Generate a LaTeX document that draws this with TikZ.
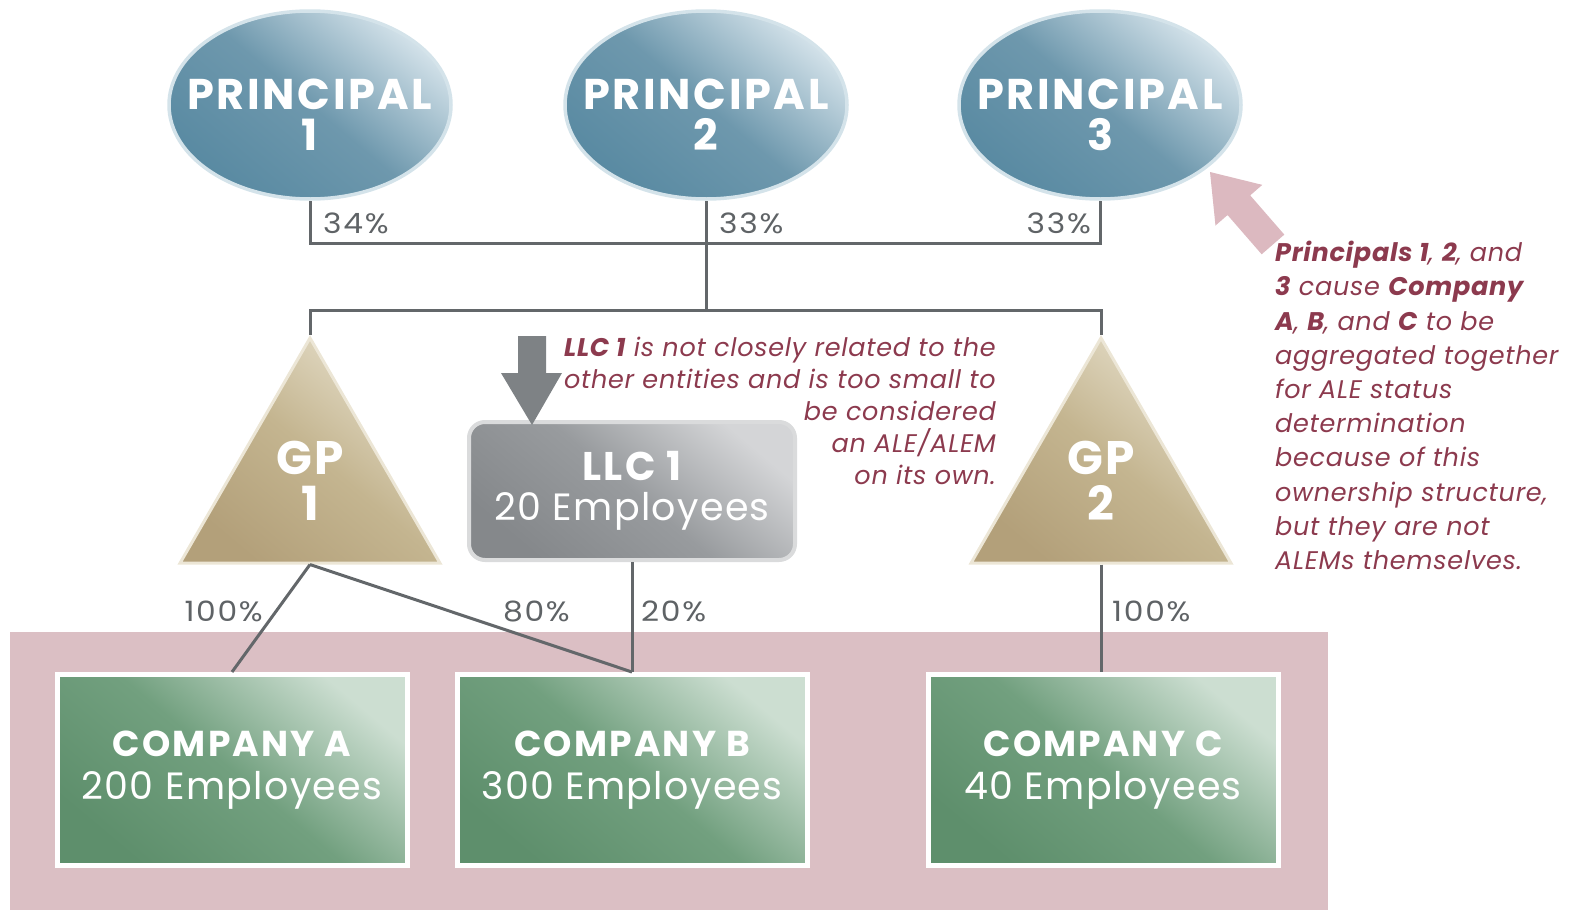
\documentclass[tikz,border=0pt]{standalone}
\usepackage{fontspec}
\setmainfont{Poppins}
\newfontfamily\capsfont{Poppins}[LetterSpace=6]
\newfontfamily\countfont{Poppins}[LetterSpace=3.5]
\newfontfamily\pctfont{Poppins}[FakeStretch=1.12,LetterSpace=6]
\newfontfamily\notefont{Poppins}[LetterSpace=2.8]
\usetikzlibrary{shapes.geometric}

\definecolor{wire}{HTML}{63676A}
\definecolor{pctgray}{HTML}{5F6366}
\definecolor{notered}{HTML}{8C3A4E}
\definecolor{blueDark}{HTML}{598AA2}
\definecolor{blueMid}{HTML}{6E98AD}
\definecolor{blueLight}{HTML}{D2E1E9}
\definecolor{blueRim}{HTML}{D4E3EA}
\definecolor{tanDark}{HTML}{B3A07A}
\definecolor{tanMid}{HTML}{C4B590}
\definecolor{tanLight}{HTML}{E6DFCB}
\definecolor{tanRim}{HTML}{ECE6D6}
\definecolor{greyDark}{HTML}{85888B}
\definecolor{greyMid}{HTML}{989B9E}
\definecolor{greyLight}{HTML}{D4D5D7}
\definecolor{greyRim}{HTML}{DADBDC}
\definecolor{greenDark}{HTML}{5E8F6C}
\definecolor{greenMid}{HTML}{72A07F}
\definecolor{greenLight}{HTML}{CCDED1}
\definecolor{pinkBand}{HTML}{DBBFC4}
\definecolor{pinkArrow}{HTML}{DCB9C0}
\definecolor{arrowGrey}{HTML}{7E8285}

\begin{document}
\begin{tikzpicture}[x=1pt,y=-1pt,
  principal/.style={ellipse, minimum width=282pt, minimum height=188pt, inner sep=0pt,
    draw=blueRim, line width=3.5pt,
    bottom color=blueDark, top color=blueLight, middle color=blueMid, shading angle=-40},
  gpbox/.style={regular polygon, regular polygon sides=3, minimum size=300pt, inner sep=0pt,
    draw=tanRim, line width=3pt,
    bottom color=tanDark, top color=tanLight, middle color=tanMid, shading angle=-40},
  llcbox/.style={rectangle, rounded corners=16pt, minimum width=326pt, minimum height=138pt,
    draw=greyRim, line width=4pt,
    bottom color=greyDark, top color=greyLight, middle color=greyMid, shading angle=-40,
    text=white, align=center, font=\countfont\fontsize{38}{40}\selectfont},
  company/.style={rectangle, minimum width=350pt, minimum height=191pt,
    draw=white, line width=5pt,
    bottom color=greenDark, top color=greenLight, middle color=greenMid, shading angle=-40,
    text=white, align=center, font=\countfont\fontsize{38}{43}\selectfont},
  ptext/.style={inner sep=0pt, text=white, align=center,
    font=\capsfont\fontsize{43}{41}\selectfont\bfseries},
  gptext/.style={inner sep=0pt, text=white, align=center,
    font=\capsfont\fontsize{47}{46}\selectfont\bfseries},
  pct/.style={inner sep=0pt, text=pctgray, font=\pctfont\fontsize{28}{28}\selectfont},
  note/.style={inner sep=0pt, text=notered, font=\notefont\fontsize{25.5}{32}\selectfont\itshape},
  wireline/.style={draw=wire, line width=3pt}
]
\useasboundingbox (0,0) rectangle (1572,910);

% band behind the aggregated companies
\fill[pinkBand] (10,632) rectangle (1328,910);

% owners
\node[principal] (p1) at (310,105) {};
\node[principal] (p2) at (706,105) {};
\node[principal] (p3) at (1100,105) {};
\node[ptext] (p1t) at ([yshift=-10pt]p1.center) {PRINCIPAL\\1};
\node[ptext] (p2t) at ([yshift=-10pt]p2.center) {PRINCIPAL\\2};
\node[ptext] (p3t) at ([yshift=-10pt]p3.center) {PRINCIPAL\\3};

% general partners and the LLC
\node[gpbox] (g1) at (310,488) {};
\node[gpbox] (g2) at (1101,488) {};
\node[gptext] (g1t) at ([yshift=7pt]g1.center) {GP\\1};
\node[gptext] (g2t) at ([yshift=7pt]g2.center) {GP\\2};
\node[llcbox] (llc) at (632,491) {{\capsfont\fontsize{40}{40}\selectfont\bfseries LLC 1}\\20 Employees};

% companies
\node[company] (ca) at (232,770) {{\capsfont\fontsize{36}{43}\selectfont\bfseries COMPANY A}\\200 Employees};
\node[company] (cb) at (632,770) {{\capsfont\fontsize{36}{43}\selectfont\bfseries COMPANY B}\\300 Employees};
\node[company] (cc) at (1103,770) {{\capsfont\fontsize{36}{43}\selectfont\bfseries COMPANY C}\\40 Employees};

% ownership lines
\coordinate (jtop) at (706,243);
\coordinate (jmid) at (706,310);
\draw[wireline] (p1.south) |- (jtop) -| (p3.south);
\draw[wireline] (p2.south) -- (jmid);
\draw[wireline] (g1.north) |- (jmid) -| (g2.north);
\draw[wireline] (g1.south) -- (ca.north);
\draw[wireline] (g1.south) -- (cb.north);
\draw[wireline] (llc.south) -- (cb.north);
\draw[wireline] (g2.south) -- (g2.south |- cc.north);

% ownership shares
\node[pct, anchor=west] (s1) at (323,223) {34\%};
\node[pct, anchor=west] (s2) at (719,223) {33\%};
\node[pct, anchor=east] (s3) at (1091,223) {33\%};
\node[pct, anchor=east] (s4) at (263,611) {100\%};
\node[pct, anchor=east] (s5) at (570,611) {80\%};
\node[pct, anchor=west] (s6) at (641,611) {20\%};
\node[pct, anchor=west] (s7) at (1112,611) {100\%};

% grey pointer onto the LLC
\fill[arrowGrey] (518,336) -- (546,336) -- (546,373) -- (562,373) -- (532,425)
  -- (501,373) -- (518,373) -- cycle;

% pink pointer onto principal 3
\begin{scope}[shift={(1210,172)}, rotate=-49]
  \fill[pinkArrow] (0,0) -- (44,-31) -- (44,-15) -- (96,-15) -- (96,15) -- (44,15)
    -- (44,31) -- cycle;
\end{scope}

% notes
\node[note, anchor=north east, align=right] (llcnote) at (996,337)
  {{\bfseries LLC 1} is not closely related to the\\
   other entities and is too small to\\
   be considered\\
   an ALE/ALEM\\
   on its own.};
\node[note, anchor=north west, align=left, font=\notefont\fontsize{25.5}{34.2}\selectfont\itshape] (aggnote) at (1275,241)
  {{\bfseries Principals 1}, {\bfseries 2}, and\\
   {\bfseries 3} cause {\bfseries Company}\\
   {\bfseries A}, {\bfseries B}, and {\bfseries C} to be\\
   aggregated together\\
   for ALE status\\
   determination\\
   because of this\\
   ownership structure,\\
   but they are not\\
   ALEMs themselves.};
\end{tikzpicture}
\end{document}
